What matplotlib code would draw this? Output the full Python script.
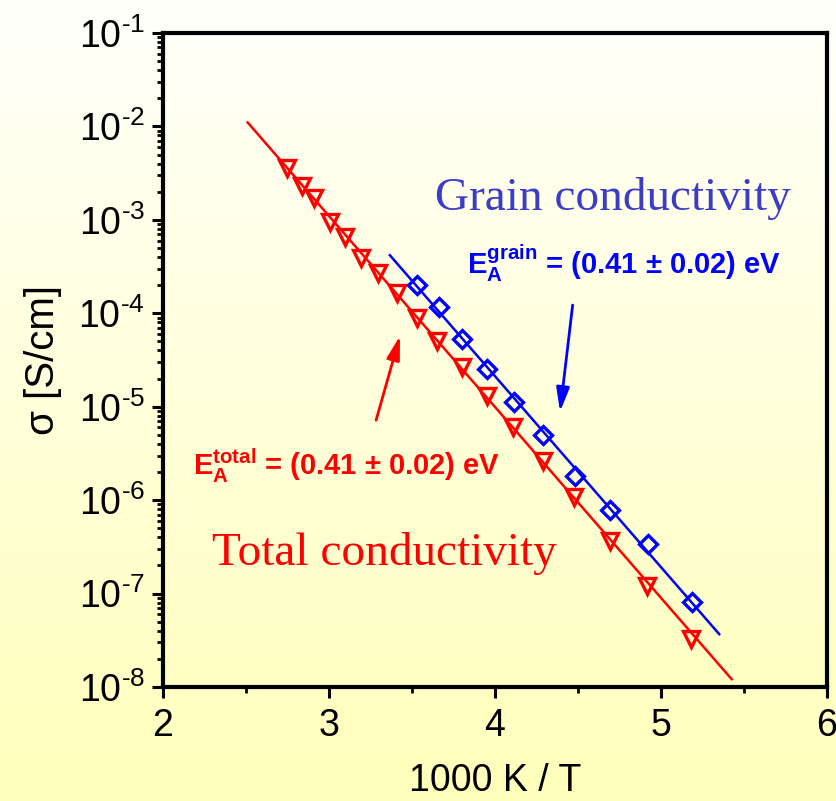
import numpy as np
import matplotlib
matplotlib.use("Agg")
import matplotlib.pyplot as plt
from matplotlib.ticker import LogLocator, MultipleLocator, NullFormatter, FuncFormatter

plt.rcParams['font.family'] = ['Liberation Sans', 'DejaVu Sans']
plt.rcParams['mathtext.fontset'] = 'custom'
plt.rcParams['mathtext.rm'] = 'Liberation Sans'
plt.rcParams['mathtext.it'] = 'Liberation Sans:italic'
plt.rcParams['mathtext.bf'] = 'Liberation Sans:bold'
plt.rcParams['axes.unicode_minus'] = False

# ---- data ----
total_x = [2.745, 2.836, 2.910, 3.006, 3.096, 3.191, 3.295, 3.408, 3.528, 3.651,
           3.799, 3.950, 4.110, 4.291, 4.476, 4.693, 4.917, 5.179]
total_sigma = [3.55e-3, 2.29e-3, 1.71e-3, 9.5e-4, 6.56e-4, 3.87e-4, 2.70e-4, 1.65e-4,
               8.81e-5, 5.04e-5, 2.65e-5, 1.29e-5, 6.14e-6, 2.65e-6, 1.07e-6, 3.68e-7,
               1.21e-7, 3.25e-8]

grain_x = [3.528, 3.661, 3.799, 3.950, 4.114, 4.291, 4.482, 4.693, 4.923, 5.185]
grain_sigma = [1.99e-4, 1.16e-4, 5.35e-5, 2.55e-5, 1.12e-5, 5.04e-6, 1.83e-6,
               7.85e-7, 3.40e-7, 8.04e-8]

# Arrhenius fit lines (end points)
total_fit_x = [2.51, 5.426]
total_fit_sigma = [1.104e-2, 1.213e-8]
grain_fit_x = [3.367, 5.351]
grain_fit_sigma = [4.18e-4, 3.68e-8]

x_ticks = [2, 3, 4, 5, 6]
y_ticks = [1e-8, 1e-7, 1e-6, 1e-5, 1e-4, 1e-3, 1e-2, 1e-1]

# ---- figure ----
fig = plt.figure(figsize=(8.37, 8.01), dpi=100)

# background gradient
bg = fig.add_axes([0, 0, 1, 1], zorder=0)
top_col = np.array([255, 255, 251]) / 255.0
bot_col = np.array([255, 255, 187]) / 255.0
t = np.linspace(0, 1, 256)[:, None]
grad = top_col[None, :] * (1 - t) + bot_col[None, :] * t
bg.imshow(grad[:, None, :], aspect='auto', extent=[0, 1, 0, 1], origin='upper')
bg.set_axis_off()

ax = fig.add_axes([0.1947, 0.1423, 0.7933, 0.8165], zorder=1)
ax.set_facecolor('none')

red = '#ff0000'
blue = '#0000ff'

ax.plot(total_fit_x, total_fit_sigma, color=red, lw=1.8, zorder=2)
ax.plot(grain_fit_x, grain_fit_sigma, color=blue, lw=1.8, zorder=2)
ax.plot(total_x, total_sigma, linestyle='none', marker='v', ms=12, mew=2.4,
        mfc='none', mec=red, zorder=3)
ax.plot(grain_x, grain_sigma, linestyle='none', marker='D', ms=8.8, mew=2.4,
        mfc='none', mec=blue, zorder=3)

ax.set_yscale('log')
ax.set_xlim(2, 6)
ax.set_ylim(1e-8, 1e-1)
ax.set_xticks(x_ticks)
ax.set_xticklabels([str(v) for v in x_ticks])
ax.xaxis.set_minor_locator(MultipleLocator(0.5))
ax.set_yticks(y_ticks)


def log_fmt(v, pos):
    n = int(round(np.log10(v)))
    sign = '\u2010' if n < 0 else ''
    return r'$\mathregular{10^{%s%d}}$' % (sign, abs(n))


ax.yaxis.set_major_formatter(FuncFormatter(log_fmt))
ax.yaxis.set_minor_locator(LogLocator(base=10, subs=np.arange(2, 10), numticks=20))
ax.yaxis.set_minor_formatter(NullFormatter())

for s in ax.spines.values():
    s.set_linewidth(3)

ax.tick_params(axis='both', which='major', direction='out', length=8, width=2.2,
               labelsize=27, pad=5, top=False, right=False)
ax.tick_params(axis='both', which='minor', direction='out', length=4.5, width=2.0,
               top=False, right=False)
ax.tick_params(axis='x', which='major', pad=7)

ax.set_xlabel('1000 K / T', fontsize=27, labelpad=14)
ax.set_ylabel('σ [S/cm]', fontsize=29, labelpad=12)

# texts
ax.text(0.4096, 0.7294, 'Grain conductivity', transform=ax.transAxes,
        fontsize=34, family=['Liberation Serif', 'DejaVu Serif'], color='#3c3cc8',
        ha='left', va='baseline')
ax.text(0.4578, 0.6320, r'$\mathbf{E}_{\mathbf{A}}^{\mathbf{grain}}$ = (0.41 ± 0.02) eV',
        transform=ax.transAxes, fontsize=21, fontweight='bold', color=blue,
        ha='left', va='baseline')
ax.text(0.0738, 0.1865, 'Total conductivity', transform=ax.transAxes,
        fontsize=34, family=['Liberation Serif', 'DejaVu Serif'], color=red,
        ha='left', va='baseline')
ax.text(0.0452, 0.3242, r'$\mathbf{E}_{\mathbf{A}}^{\mathbf{total}}$ = (0.41 ± 0.02) eV',
        transform=ax.transAxes, fontsize=21, fontweight='bold', color=red,
        ha='left', va='baseline')

# arrows
ax.annotate('', xy=(0.357, 0.537), xytext=(0.321, 0.408), xycoords='axes fraction',
            textcoords='axes fraction',
            arrowprops=dict(arrowstyle='-|>,head_length=0.8,head_width=0.22',
                            color=red, lw=2, mutation_scale=18, shrinkA=0, shrinkB=0))
ax.annotate('', xy=(0.598, 0.421), xytext=(0.617, 0.584), xycoords='axes fraction',
            textcoords='axes fraction',
            arrowprops=dict(arrowstyle='-|>,head_length=0.8,head_width=0.22',
                            color=blue, lw=2, mutation_scale=18, shrinkA=0, shrinkB=0))

fig.savefig('out.png', dpi=100)
